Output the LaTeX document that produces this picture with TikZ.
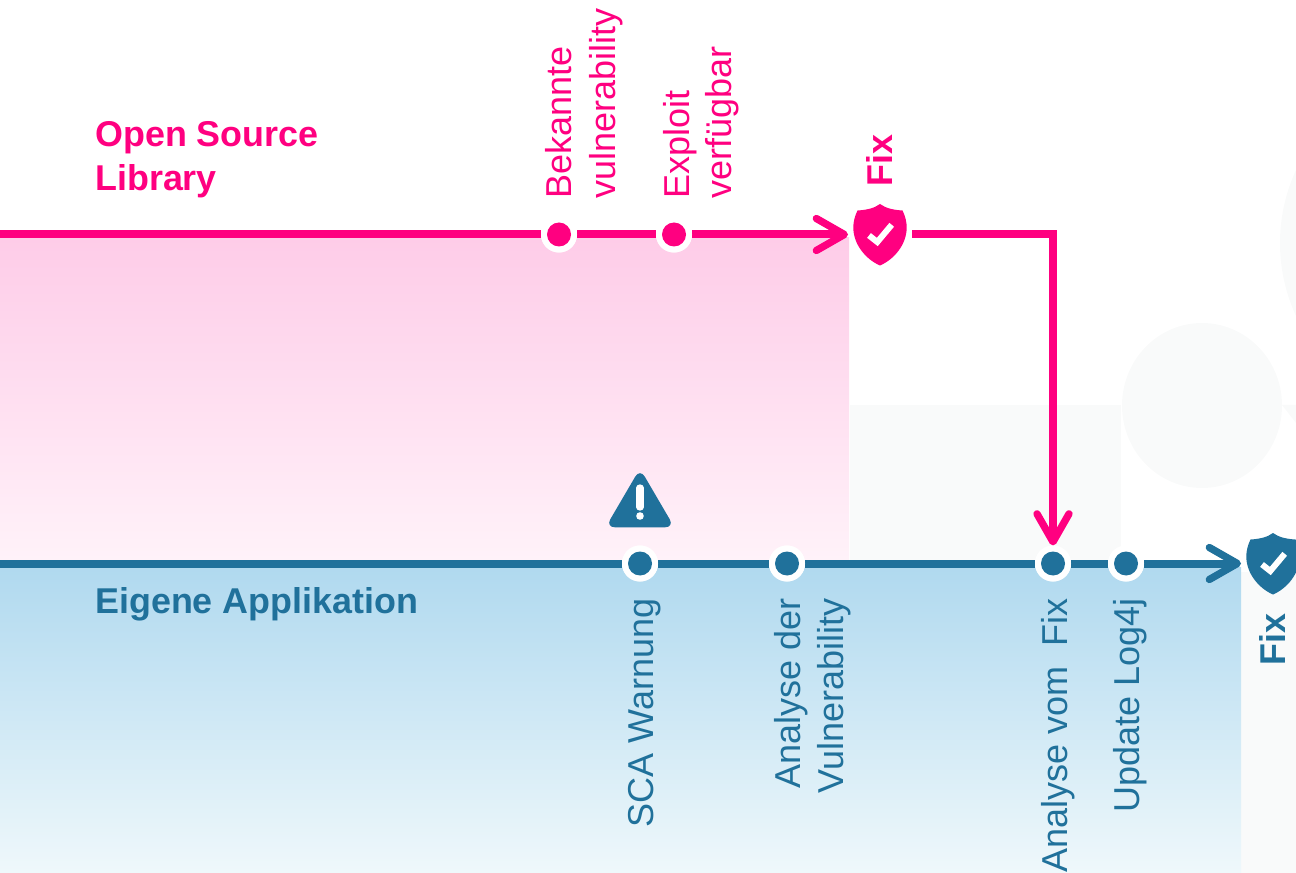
\documentclass[tikz,border=0pt]{standalone}
\usepackage{fontspec}
\setmainfont{Liberation Sans}
\usetikzlibrary{arrows.meta}
\definecolor{pinkc}{RGB}{255,0,128}
\definecolor{bluec}{RGB}{32,113,155}
\definecolor{greyc}{RGB}{249,250,250}
\definecolor{pinktop}{RGB}{254,204,232}
\definecolor{pinkbot}{RGB}{255,242,249}
\definecolor{bluetop}{RGB}{176,217,239}
\definecolor{bluebot}{RGB}{239,248,251}
\tikzset{
  txt/.style={font=\fontsize{27}{33}\selectfont, inner sep=0pt, align=left},
  boldtxt/.style={font=\fontsize{26.9}{33}\selectfont\bfseries, inner sep=0pt, align=left},
  upstart/.style={rotate=90, anchor=base west},
  upend/.style={rotate=90, anchor=base east},
  dotnode/.style={circle, fill=#1, draw=white, line width=4.5pt, minimum size=22.5pt, inner sep=0pt},
  shieldnode/.style={minimum width=48pt, minimum height=48pt, inner sep=0pt, outer sep=0pt},
  warnnode/.style={minimum width=46pt, minimum height=40pt, inner sep=0pt, outer sep=0pt},
  conn/.style={line width=6pt, draw=#1},
  tip/.style={-{Straight Barb[length=21pt,width=24pt,round,line width=5.5pt]}},
}
\newcommand{\shieldshape}[2]{%
  \fill[#2,shift={(#1.center)}] (0,-30.5)
    .. controls (-6,-26) and (-14,-24.5) .. (-22.5,-24)
    .. controls (-25.5,-18) and (-26.7,-12) .. (-26.7,-7)
    .. controls (-26.7,10) and (-14,25) .. (0,31)
    .. controls (14,25) and (26.7,10) .. (26.7,-7)
    .. controls (26.7,-12) and (25.5,-18) .. (22.5,-24)
    .. controls (14,-24.5) and (6,-26) .. (0,-30.5) -- cycle;
  \draw[white,line width=4.5pt,shift={(#1.center)}] (-11,1) -- (-2.7,7.5) -- (11.7,-9.7);
}
\begin{document}
\begin{tikzpicture}[x=0.75pt,y=-0.75pt]
\useasboundingbox (0,0) rectangle (1296,873);
\clip (0,0) rectangle (1296,873);
% background
\fill[greyc] (850,405) rectangle (1121,563);
\fill[greyc] (1202,405.5) ellipse (80 and 82.5);
\fill[greyc] (1454,243) circle (174);
\fill[greyc] (1282,405) -- (1296,405) -- (1296,423) -- cycle;
\fill[greyc] (1241,572) rectangle (1296,873);
% gradient bands
\shade[top color=pinktop,bottom color=pinkbot] (0,238) rectangle (849,560);
\shade[top color=bluetop,bottom color=bluebot] (0,567) rectangle (1241,873);
% anchors
\coordinate (pstart) at (0,234.5);
\coordinate (bstart) at (0,563.5);
\node[dotnode=pinkc] (pa) at (559,234.5) {};
\node[dotnode=pinkc] (pb) at (674,234.5) {};
\node[shieldnode] (ps) at (880,234.5) {};
\node[dotnode=bluec] (ba) at (640,563.5) {};
\node[dotnode=bluec] (bb) at (787,563.5) {};
\node[dotnode=bluec] (bc) at (1053,563.5) {};
\node[dotnode=bluec] (bd) at (1126,563.5) {};
\node[shieldnode] (bs) at (1273,563.5) {};
\node[warnnode] (warn) at (640,501) {};
% connectors
\draw[conn=pinkc] (pstart) -- (pa);
\draw[conn=pinkc] (pa) -- (pb);
\draw[conn=pinkc,tip] (pb) -- (ps.west);
\draw[conn=bluec] (bstart) -- (ba);
\draw[conn=bluec] (ba) -- (bb);
\draw[conn=bluec] (bb) -- (bc);
\draw[conn=bluec] (bc) -- (bd);
\draw[conn=bluec,tip] (bd) -- (bs.west);
\draw[conn=pinkc,tip] (ps.east) -| (bc.north);
% dots redrawn above connectors
\foreach \n/\c in {pa/pinkc,pb/pinkc,ba/bluec,bb/bluec,bc/bluec,bd/bluec}{
  \fill[white] (\n.center) circle (18);
  \fill[\c] (\n.center) circle (12);
}
% icons
\shieldshape{ps}{pinkc}
\shieldshape{bs}{bluec}
\fill[bluec,rounded corners=7pt,shift={(warn.center)}] (0,-32.5) -- (-34.4,26.3) -- (34.4,26.3) -- cycle;
\draw[white,line width=5.5pt,line cap=round,shift={(warn.center)}] (0,-13) -- (0,6);
\fill[white,shift={(warn.center)}] (0,15) circle (3.8);
% texts
\node[boldtxt,anchor=base west,text=pinkc] (t1) at (95,147) {Open Source};
\node[boldtxt,anchor=base west,text=pinkc] (t2) at (95,191) {Library};
\node[boldtxt,anchor=base west,text=bluec] (t3) at (95,613) {Eigene Applikation};
\node[txt,upstart,text=pinkc] (l1) at (571.5,199) {Bekannte};
\node[txt,upstart,text=pinkc] (l2) at (615.5,199) {vulnerability};
\node[txt,upstart,text=pinkc] (l3) at (689.5,199) {Exploit};
\node[txt,upstart,text=pinkc] (l4) at (731.5,199) {verfügbar};
\node[boldtxt,upstart,text=pinkc] (f1) at (892.7,187) {Fix};
\node[txt,upend,text=bluec] (l5) at (653.5,598) {SCA Warnung};
\node[txt,upend,text=bluec] (l6) at (800,598) {Analyse der};
\node[txt,upend,text=bluec] (l7) at (843.5,598) {Vulnerability};
\node[txt,upend,text=bluec] (l8) at (1067,598) {Analyse vom\ \ Fix};
\node[txt,upend,text=bluec] (l9) at (1139,598) {Update Log4j};
\node[boldtxt,upstart,text=bluec] (f2) at (1285,666) {Fix};
\end{tikzpicture}
\end{document}
